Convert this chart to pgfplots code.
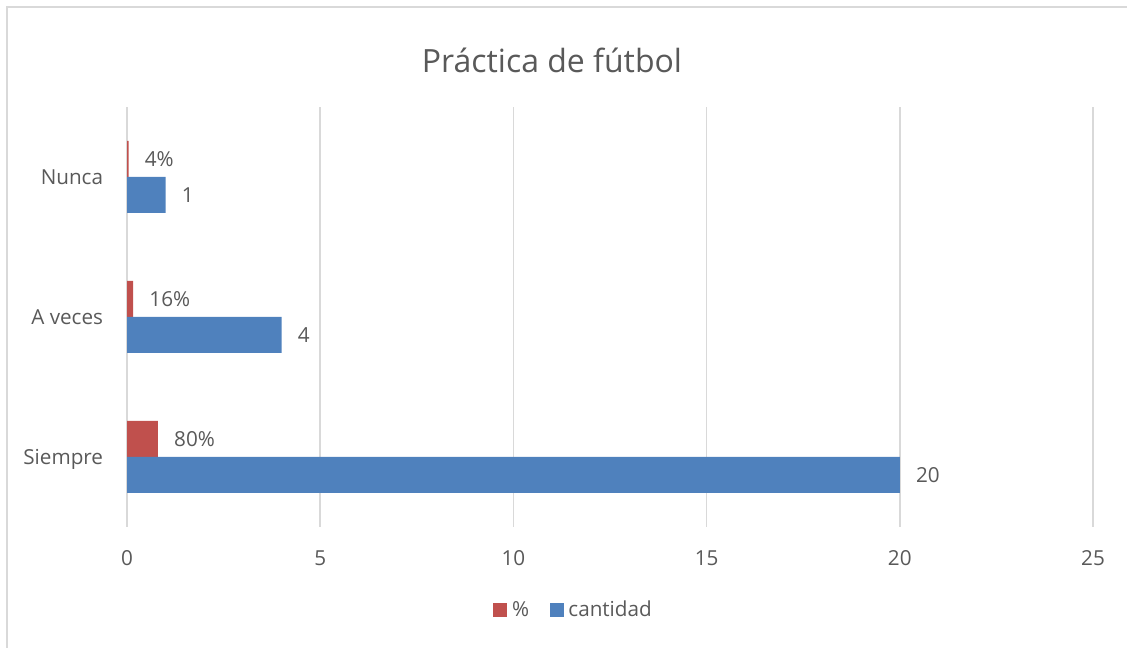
\documentclass[border=0pt]{standalone}
\usepackage{pgfplots}
\pgfplotsset{compat=1.18}
\usepackage{fontspec}
\setmainfont{Open Sans}
\definecolor{cred}{HTML}{C0504D}
\definecolor{cblue}{HTML}{4F81BD}
\definecolor{txt}{HTML}{595959}
\definecolor{gridc}{HTML}{D9D9D9}
\begin{document}
\begin{tikzpicture}[x=0.75pt,y=0.75pt]
\useasboundingbox (0,0) rectangle (1127,648);
\draw[gridc, line width=1.5pt] (7,0) -- (7,641) -- (1127,641);
\node[txt, font=\fontsize{24}{28}\selectfont, inner sep=0pt] at (552,588) {Práctica de fútbol};
\begin{axis}[
  at={(95.25pt,90.75pt)}, anchor=south west, scale only axis,
  width=724.5pt, height=315pt,
  xbar, xmin=0, xmax=25, ymin=-0.5, ymax=2.5,
  xtick={0,5,...,25}, ytick={0,1,2}, yticklabels={Siempre,A veces,Nunca},
  axis line style={draw=none}, tick style={draw=none},
  xmajorgrids, grid style={gridc, line width=1.2pt},
  bar width=27pt,
  /pgf/number format/assume math mode=true,
  tick label style={txt, font=\fontsize{15.5}{18}\selectfont, inner sep=0pt, text depth=0pt},
  xticklabel style={anchor=center, yshift=-23.25pt},
  yticklabel style={anchor=east, xshift=-13.5pt},
  nodes near coords, point meta=explicit symbolic,
  every node near coord/.append style={anchor=west, xshift=12pt, inner sep=0pt, txt, font=\fontsize{15.5}{18}\selectfont, text depth=0pt},
  legend style={at={(0.4637,-0.1976)}, anchor=center, draw=none, fill=none,
    legend columns=-1, font=\fontsize{15.5}{18}\selectfont, text=txt,
    /tikz/every even column/.append style={column sep=12pt},
    nodes={inner xsep=3.5pt, inner ysep=0pt}},
  legend image code/.code={\fill[#1] (0pt,-5.25pt) rectangle (10.5pt,5.25pt);},
]
\addplot[fill=cred, draw=none, bar shift=13.5pt] coordinates {(0.8,0) [80\%] (0.16,1) [16\%] (0.04,2) [4\%]};
\addplot[fill=cblue, draw=none, bar shift=-13.5pt] coordinates {(20,0) [20] (4,1) [4] (1,2) [1]};
\legend{\%, cantidad}
\end{axis}
\end{tikzpicture}
\end{document}
